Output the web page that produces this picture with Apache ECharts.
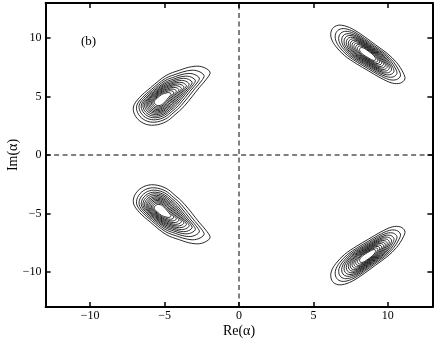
<!DOCTYPE html>
<html>
<head>
<meta charset="utf-8">
<script src="https://cdn.jsdelivr.net/npm/echarts@6/dist/echarts.min.js"></script>
<style>
  html, body { margin: 0; padding: 0; background: #fff; }
  #chart { width: 436px; height: 341px; }
</style>
</head>
<body>
<div id="chart"></div>
<script>
// tick values on both axes
const ticks = [-10, -5, 0, 5, 10]

// peak of each lobe (upper-left, upper-right, lower-left, lower-right)
const peaks = [[-5.3, 4.7], [8.65, 8.65], [-5.3, -4.7], [8.65, -8.65]]

// outermost contour of each lobe
const outerUL = [[-1.95, 7.1], [-2.5, 7.55], [-3.2, 7.55], [-4.0, 7.25], [-4.9, 6.8], [-5.95, 5.75], [-6.7, 4.9], [-7.1, 4.1],
  [-6.95, 3.3], [-6.4, 2.7], [-5.7, 2.55], [-4.9, 2.85], [-4.3, 3.45], [-3.7, 4.15], [-2.65, 5.8], [-2.15, 6.55]]
const outerUR = [[6.2, 10.6], [6.45, 11.0], [6.9, 11.1], [7.6, 10.8], [8.4, 10.15], [9.2, 9.4], [9.95, 8.7], [10.6, 7.9],
  [11.05, 7.0], [11.15, 6.5], [10.85, 6.15], [10.3, 6.15], [9.5, 6.6], [8.7, 7.2], [7.9, 7.8], [7.1, 8.5], [6.5, 9.3], [6.2, 10.0]]
const outerLL = [[-1.95, -7.1], [-2.5, -7.55], [-3.2, -7.55], [-4.0, -7.25], [-4.9, -6.8], [-5.95, -5.75], [-6.7, -4.9], [-7.1, -4.1],
  [-6.95, -3.3], [-6.4, -2.7], [-5.7, -2.55], [-4.9, -2.85], [-4.3, -3.45], [-3.7, -4.15], [-2.65, -5.8], [-2.15, -6.55]]
const outerLR = [[6.2, -10.6], [6.45, -11.0], [6.9, -11.1], [7.6, -10.8], [8.4, -10.15], [9.2, -9.4], [9.95, -8.7], [10.6, -7.9],
  [11.05, -7.0], [11.15, -6.5], [10.85, -6.15], [10.3, -6.15], [9.5, -6.6], [8.7, -7.2], [7.9, -7.8], [7.1, -8.5], [6.5, -9.3], [6.2, -10.0]]
const outlines = [outerUL, outerUR, outerLL, outerLR]

// relative size of each contour level, outermost first
const levelScale = [1, 0.88, 0.785, 0.705, 0.64, 0.58, 0.525, 0.475, 0.425, 0.375, 0.325, 0.275, 0.22]

// dashed zero lines
const vZero = [[0, -13], [0, 13]]
const hZero = [[-13, 0], [13, 0]]

const contourData = []
outlines.forEach((o, b) => levelScale.forEach((s, k) => contourData.push([b, k])))

const font = 'Liberation Serif'
const minus = v => String(v).replace('-', '\u2212')

const axisCommon = {
  type: 'value', min: -13, max: 13,
  axisLine: { show: true, onZero: false, lineStyle: { color: '#000', width: 2 } },
  axisTick: { show: true, inside: true, length: 5, customValues: ticks, lineStyle: { color: '#000', width: 1.5 } },
  splitLine: { show: false }
}

// draw one contour: the lobe's outline shrunk toward its peak
function renderContour(params, api) {
  const b = api.value(0)
  const s = levelScale[api.value(1)]
  const c = peaks[b]
  const pts = outlines[b].map(p => api.coord([c[0] + s * (p[0] - c[0]), c[1] + s * (p[1] - c[1])]))
  return {
    type: 'polygon',
    shape: { points: pts, smooth: 0.35 },
    style: { fill: 'none', stroke: '#111', lineWidth: 0.9 }
  }
}

const chart = echarts.init(document.getElementById('chart'))
chart.setOption({
  animation: false,
  grid: { left: 45.6, right: 3.6, top: 3, bottom: 34, outerBoundsMode: 'none', containLabel: false },
  xAxis: [
    {
      ...axisCommon, position: 'bottom',
      axisLabel: { customValues: ticks, formatter: minus, fontFamily: font, fontSize: 12, color: '#000', margin: 3 },
      name: 'Re(\u03b1)', nameLocation: 'middle', nameGap: 17, nameMoveOverlap: false,
      nameTextStyle: { fontFamily: font, fontSize: 14, color: '#000' }
    },
    { ...axisCommon, position: 'top', axisLabel: { show: false } }
  ],
  yAxis: [
    {
      ...axisCommon, position: 'left',
      axisLabel: { customValues: ticks, formatter: minus, fontFamily: font, fontSize: 12, color: '#000', margin: 4 },
      name: 'Im(\u03b1)', nameLocation: 'middle', nameGap: 25, nameMoveOverlap: false,
      nameTextStyle: { fontFamily: font, fontSize: 14, color: '#000' }
    },
    { ...axisCommon, position: 'right', axisLabel: { show: false } }
  ],
  graphic: [
    { type: 'text', left: 81, top: 35, style: { text: '(b)', font: '13px "Liberation Serif"', fill: '#000' } }
  ],
  series: [
    {
      type: 'line', data: vZero, symbol: 'none', silent: true,
      lineStyle: { color: '#000', width: 1, type: [5, 3.5] }
    },
    {
      type: 'line', data: hZero, symbol: 'none', silent: true,
      lineStyle: { color: '#000', width: 1, type: [5, 3.5] }
    },
    {
      type: 'custom', data: contourData, renderItem: renderContour, clip: false, silent: true
    }
  ]
})
</script>
</body>
</html>
